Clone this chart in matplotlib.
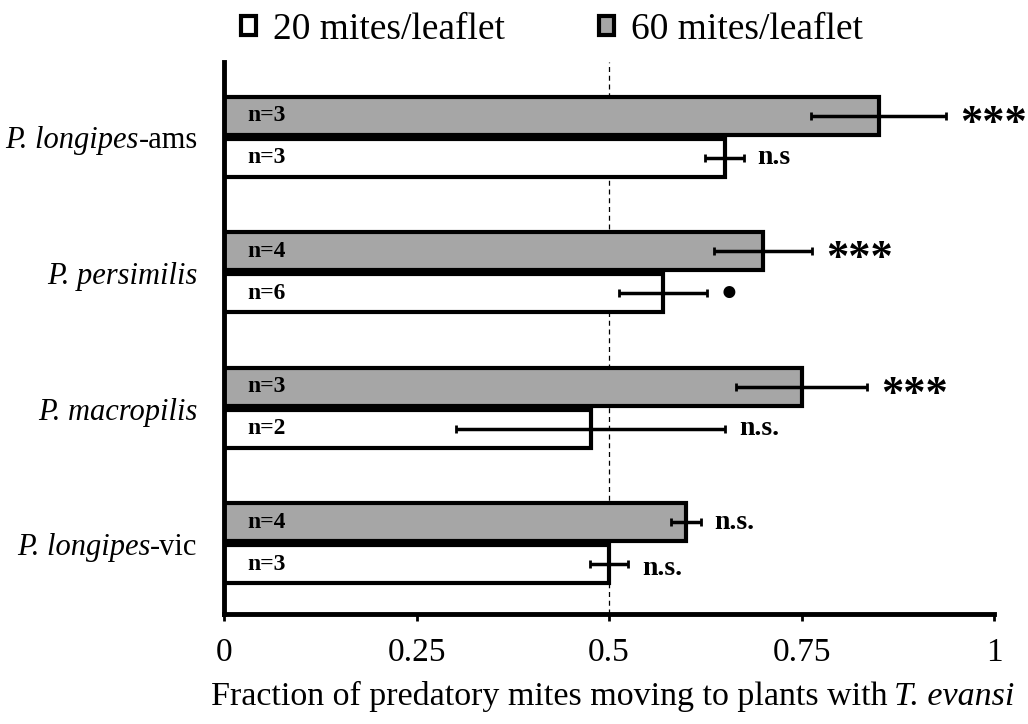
import matplotlib.pyplot as plt
from matplotlib.patches import Patch
from matplotlib.offsetbox import TextArea, HPacker, AnnotationBbox
import numpy as np

plt.rcParams['font.family'] = 'Liberation Serif'

# populations, bottom to top: (italic part, plain part)
species = [('P. longipes', '-vic'), ('P. macropilis', ''),
           ('P. persimilis', ''), ('P. longipes', '-ams')]

# fraction moving to T. evansi plants, mean and s.e.
low_mean = [0.50, 0.476, 0.57, 0.65]
low_err = [0.025, 0.175, 0.057, 0.025]
low_n = [3, 2, 6, 3]
low_sig = ['n.s.', 'n.s.', '\u25cf', 'n.s']

high_mean = [0.60, 0.75, 0.70, 0.85]
high_err = [0.019, 0.085, 0.064, 0.088]
high_n = [4, 3, 4, 3]
high_sig = ['n.s.', '***', '***', '***']


def mixed_label(parts, size):
    # parts: list of (text, italic?)
    boxes = [TextArea(t, textprops=dict(fontsize=size,
                                        fontstyle='italic' if it else 'normal'))
             for t, it in parts if t]
    return HPacker(children=boxes, pad=0, sep=0, align='baseline')


fig = plt.figure(figsize=(10.28, 7.24), dpi=100)
ax = fig.add_axes([0.218, 0.152, 0.749, 0.762])

y = np.arange(len(species))
h = 0.28
off = 0.155
gray = '#a6a6a6'

ax.axvline(0.5, color='black', linestyle=(0, (4, 3)), linewidth=0.9, zorder=0)

ax.barh(y + off, high_mean, height=h, color=gray, edgecolor='black', linewidth=3, zorder=2)
ax.barh(y - off, low_mean, height=h, color='white', edgecolor='black', linewidth=3, zorder=2)
ax.errorbar(high_mean, y + off, xerr=high_err, fmt='none', ecolor='black',
            elinewidth=2.5, capsize=3, capthick=2, zorder=3)
ax.errorbar(low_mean, y - off, xerr=low_err, fmt='none', ecolor='black',
            elinewidth=2.5, capsize=3, capthick=2, zorder=3)

for i in range(len(species)):
    ax.text(0.03, y[i] + off, 'n=%d' % high_n[i], va='center', ha='left',
            fontsize=17, fontweight='bold', zorder=4)
    ax.text(0.03, y[i] - off, 'n=%d' % low_n[i], va='center', ha='left',
            fontsize=17, fontweight='bold', zorder=4)
    hs = high_sig[i]
    ax.text(high_mean[i] + high_err[i] + 0.018, y[i] + off - (0.06 if hs == '***' else 0),
            hs, va='center', ha='left', fontweight='bold',
            fontsize=32 if hs == '***' else 20)
    ls = low_sig[i]
    ax.text(low_mean[i] + low_err[i] + 0.018, y[i] - off - (0.03 if i == 0 else 0),
            ls, va='center', ha='left', fontweight='bold',
            fontsize=20)

    # species name on the left of the axis
    lab = mixed_label([(species[i][0], True), (species[i][1], False)], 22)
    ax.add_artist(AnnotationBbox(lab, (0, y[i]), xybox=(-19, -3),
                                 xycoords='data', boxcoords='offset points',
                                 box_alignment=(1, 0.5), frameon=False,
                                 pad=0, annotation_clip=False))

ax.set_xlim(0, 1)
ax.set_ylim(-0.52, 3.55)
ax.set_yticks(y)
ax.set_yticklabels([])
ax.set_xticks([0, 0.25, 0.5, 0.75, 1])
ax.set_xticklabels(['0', '0.25', '0.5', '0.75', '1'], fontsize=24)
ax.tick_params(axis='y', length=0)
ax.tick_params(axis='x', length=5, width=2, direction='out', pad=12)

xlab = mixed_label([('Fraction of predatory mites moving to plants with\u2009', False),
                    ('T. evansi', True)], 24.5)
fig.add_artist(AnnotationBbox(xlab, (0.596, 0.038), xycoords='figure fraction',
                              box_alignment=(0.5, 0.5), frameon=False, pad=0))

for s in ['top', 'right']:
    ax.spines[s].set_visible(False)
for s in ['left', 'bottom']:
    ax.spines[s].set_linewidth(3.5)

handles = [Patch(facecolor='white', edgecolor='black', linewidth=3),
           Patch(facecolor=gray, edgecolor='black', linewidth=3)]
fig.legend(handles, ['20 mites/leaflet', '60 mites/leaflet'], ncol=2,
           loc='upper center', bbox_to_anchor=(0.537, 1.03), frameon=False,
           fontsize=27, handlelength=0.4, handleheight=0.4, handletextpad=0.45,
           columnspacing=2.5)

fig.savefig('out.png', dpi=100)
